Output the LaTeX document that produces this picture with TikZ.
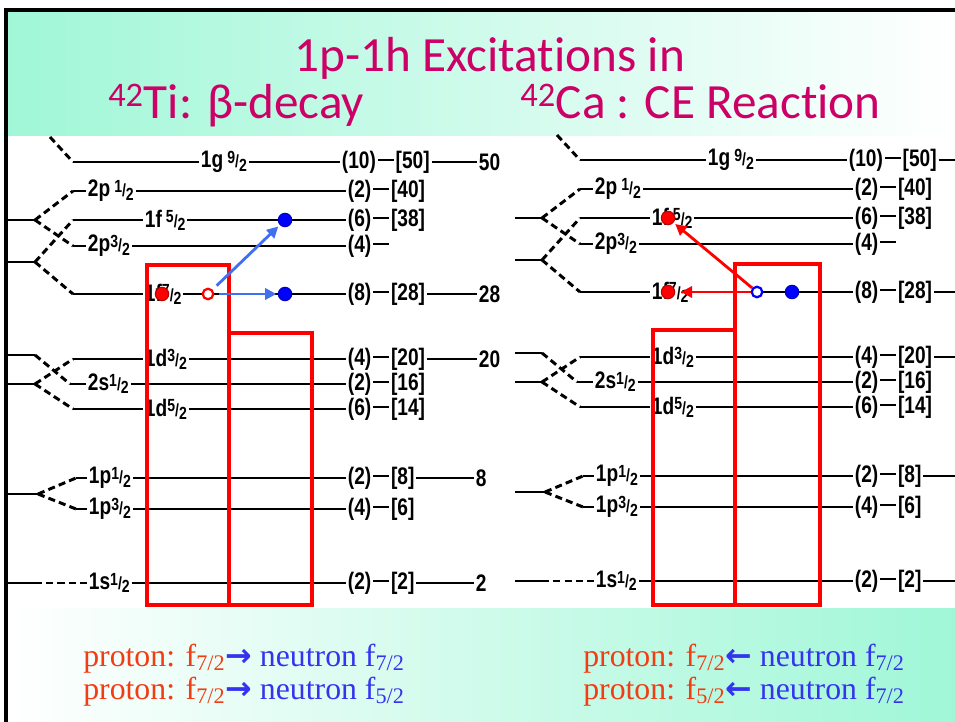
\documentclass[tikz,border=0pt]{standalone}
\usepackage{fontspec}
\setmainfont{Liberation Serif}
\newfontfamily\titlefont{Carlito}[Ligatures=NoCommon]
\newfontfamily\schemefont{Liberation Sans}[FakeStretch=0.8]
\newfontfamily\arrowfont{DejaVu Sans}
\usetikzlibrary{arrows.meta}

\definecolor{mint}{RGB}{160,247,216}
\definecolor{titlered}{RGB}{204,0,102}
\definecolor{protonred}{RGB}{242,60,20}
\definecolor{neutronblue}{RGB}{52,52,240}
\definecolor{arrowblue}{RGB}{64,112,240}

\newcommand{\jf}[2]{{\fontsize{12.5}{12}\selectfont\raisebox{0.5ex}{#1}/\raisebox{-0.35ex}{#2}}}
\newcommand{\dsh}{\kern1.5pt\rule[0.3em]{0.65em}{1.7pt}\kern1.5pt}
\newcommand{\magic}[1]{#1}

\tikzset{
  lvl/.style={line width=2.1pt},
  splitline/.style={line width=2.1pt, dash pattern=on 5pt off 3pt},
  lab/.style={anchor=west, inner sep=1.2pt, font=\schemefont\bfseries\fontsize{17}{19}\selectfont},
  shellbox/.style={draw=red, line width=2.2pt},
  fullp/.style={circle, inner sep=0pt, minimum size=9.5pt, fill=#1, draw=#1!75!black, line width=0.8pt},
  hole/.style={circle, inner sep=0pt, minimum size=7.5pt, draw=#1, line width=1.6pt, fill=white},
  jump/.style={draw=#1, line width=2pt, -{Triangle[length=8pt,width=8pt]}},
  heading/.style={text=titlered, font=\titlefont\fontsize{35}{35}\selectfont, inner sep=0pt},
  note/.style={font=\fontsize{22.6}{26}\selectfont, inner sep=0pt, anchor=base west},
}

% single-particle levels, drawn in pixel units
\newcommand{\shellscheme}{%
  \coordinate (g9s) at (73,162);
  \node[lab] (g9) at (199,162) {1g\,\jf{9}{2}};
  \node[lab] (g9n) at (340,162) {(10)\dsh[50]};
  \node[lab] (g9m) at (477,162) {\magic{50}};
  \draw[lvl] (g9s) -- (g9.west) (g9.east) -- (g9n.west) (g9n.east) -- (g9m.west);
  \coordinate (p1s) at (73,191);
  \node[lab] (p1) at (86,191) {2p\,\jf{1}{2}};
  \node[lab] (p1n) at (346,191) {(2)\dsh[40]};
  \draw[lvl] (p1s) -- (p1.west) (p1.east) -- (p1n.west);
  \coordinate (f5s) at (73,220);
  \node[lab] (f5) at (143,220) {1f\,\jf{5}{2}};
  \node[lab] (f5n) at (346,220) {(6)\dsh[38]};
  \draw[lvl] (f5s) -- (f5.west) (f5.east) -- (f5n.west);
  \coordinate (p3s) at (73,246);
  \node[lab] (p3) at (86,246) {2p\jf{3}{2}};
  \node[lab] (p3n) at (346,246) {(4)\dsh};
  \draw[lvl] (p3s) -- (p3.west) (p3.east) -- (p3n.west);
  \coordinate (f7s) at (73,294);
  \node[lab] (f7) at (143,294) {1f\jf{7}{2}};
  \node[lab] (f7n) at (346,294) {(8)\dsh[28]};
  \node[lab] (f7m) at (477,294) {\magic{28}};
  \draw[lvl] (f7s) -- (f7.west) (f7.east) -- (f7n.west) (f7n.east) -- (f7m.west);
  \coordinate (g9t) at (50,137);
  \coordinate (ka) at (8,220);
  \coordinate (kb) at (35,220);
  \coordinate (kc) at (8,262);
  \coordinate (kd) at (35,262);
  \draw[lvl] (ka) -- (kb) (kc) -- (kd);
  \draw[splitline] (g9t) -- (g9s) (kb) -- (p1s) (kb) -- (p3s) (kd) -- (f5s) (kd) -- (f7s);
  %
  \coordinate (d3s) at (73,359);
  \node[lab] (d3) at (143,359) {1d\jf{3}{2}};
  \node[lab] (d3n) at (346,359) {(4)\dsh[20]};
  \node[lab] (d3m) at (477,359) {\magic{20}};
  \draw[lvl] (d3s) -- (d3.west) (d3.east) -- (d3n.west) (d3n.east) -- (d3m.west);
  \coordinate (s1s) at (70,384);
  \node[lab] (s1) at (86,384) {2s\jf{1}{2}};
  \node[lab] (s1n) at (346,384) {(2)\dsh[16]};
  \draw[lvl] (s1s) -- (s1.west) (s1.east) -- (s1n.west);
  \coordinate (d5s) at (73,409);
  \node[lab] (d5) at (143,409) {1d\jf{5}{2}};
  \node[lab] (d5n) at (346,409) {(6)\dsh[14]};
  \draw[lvl] (d5s) -- (d5.west) (d5.east) -- (d5n.west);
  \coordinate (la) at (8,355);
  \coordinate (lb) at (35,355);
  \coordinate (lc) at (8,384);
  \coordinate (ld) at (35,384);
  \draw[lvl] (la) -- (lb) (lc) -- (ld);
  \draw[splitline] (lb) -- (s1s) (ld) -- (d3s) (ld) -- (d5s);
  %
  \coordinate (q1s) at (76,478);
  \node[lab] (q1) at (87,478) {1p\jf{1}{2}};
  \node[lab] (q1n) at (346,478) {(2)\dsh[8]};
  \node[lab] (q1m) at (474,478) {\magic{8}};
  \draw[lvl] (q1s) -- (q1.west) (q1.east) -- (q1n.west) (q1n.east) -- (q1m.west);
  \coordinate (q3s) at (76,509);
  \node[lab] (q3) at (87,509) {1p\jf{3}{2}};
  \node[lab] (q3n) at (346,509) {(4)\dsh[6]};
  \draw[lvl] (q3s) -- (q3.west) (q3.east) -- (q3n.west);
  \coordinate (ma) at (8,494);
  \coordinate (mb) at (38,494);
  \draw[lvl] (ma) -- (mb);
  \draw[splitline] (mb) -- (q1s) (mb) -- (q3s);
  %
  \coordinate (o1a) at (8,583);
  \coordinate (o1s) at (35,583);
  \node[lab] (o1) at (87,583) {1s\jf{1}{2}};
  \node[lab] (o1n) at (346,583) {(2)\dsh[2]};
  \node[lab] (o1m) at (474,583) {\magic{2}};
  \draw[lvl] (o1a) -- (o1s) (o1.east) -- (o1n.west) (o1n.east) -- (o1m.west);
  \draw[splitline] (o1s) -- (o1.west);
}

\begin{document}
\begin{tikzpicture}[x=0.025cm, y=-0.025cm]
  \useasboundingbox (0,0) rectangle (955,722);
  \fill[white] (0,0) rectangle (955,722);
  \shade[left color=mint, middle color=mint!45!white, right color=white] (6,10) rectangle (955,136);
  \shade[left color=white, middle color=mint!45!white, right color=mint] (6,608) rectangle (955,722);
  \fill[white] (8,136) rectangle (955,608);

  \begin{scope}[name prefix=L-]
    \shellscheme
  \end{scope}
  \begin{scope}
    \clip (495,130) rectangle (955,608);
    \renewcommand{\magic}[1]{\phantom{#1}}
    \begin{scope}[shift={(507,-2)}, name prefix=R-]
      \shellscheme
    \end{scope}
  \end{scope}

  \draw[shellbox] (147,265) rectangle (229,605);
  \draw[shellbox] (229,333) rectangle (312,605);
  \draw[shellbox] (735,264) rectangle (820,605);
  \draw[shellbox] (653,330) rectangle (735,605);

  % 42Ti: proton f7/2 -> neutron
  \node[fullp=red] (lp) at (162,294) {};
  \node[hole=red] (lh) at (208,294) {};
  \node[fullp=blue] (lb5) at (285,220) {};
  \node[fullp=blue] (lb7) at (285,294) {};
  \draw[jump=arrowblue, shorten <=4pt, shorten >=1.5pt] (lh) -- (lb5);
  \draw[jump=arrowblue, shorten <=3pt, shorten >=1pt] (lh) -- (lb7);

  % 42Ca: neutron f7/2 -> proton
  \node[fullp=red] (rp5) at (668,218) {};
  \node[fullp=red] (rp7) at (668,292) {};
  \node[hole=blue] (rh) at (757,292) {};
  \node[fullp=blue] (rb) at (792,292) {};
  \draw[jump=red, shorten >=1.5pt] (rh) -- (rp5);
  \draw[jump=red, shorten >=4pt] (rh) -- (rp7);

  \node[heading, anchor=base] (t1) at (490,72) {1p-1h Excitations in};
  \node[heading, anchor=base west] (t2) at (108,119) {\textsuperscript{42}Ti: β-decay};
  \node[heading, anchor=base west] (t3) at (520,119) {\textsuperscript{42}Ca : CE Reaction};

  \node[note] (nl1) at (83,666) {\color{protonred}proton: f\textsubscript{7/2}\color{neutronblue}{\arrowfont\bfseries →} neutron f\textsubscript{7/2}};
  \node[note] (nl2) at (83,699) {\color{protonred}proton: f\textsubscript{7/2}\color{neutronblue}{\arrowfont\bfseries →} neutron f\textsubscript{5/2}};
  \node[note] (nr1) at (583,666) {\color{protonred}proton: f\textsubscript{7/2}\color{neutronblue}{\arrowfont\bfseries ←} neutron f\textsubscript{7/2}};
  \node[note] (nr2) at (583,699) {\color{protonred}proton: f\textsubscript{5/2}\color{neutronblue}{\arrowfont\bfseries ←} neutron f\textsubscript{7/2}};

  \draw[line width=2.2pt] (6,722) -- (6,10) -- (955,10);
\end{tikzpicture}
\end{document}
